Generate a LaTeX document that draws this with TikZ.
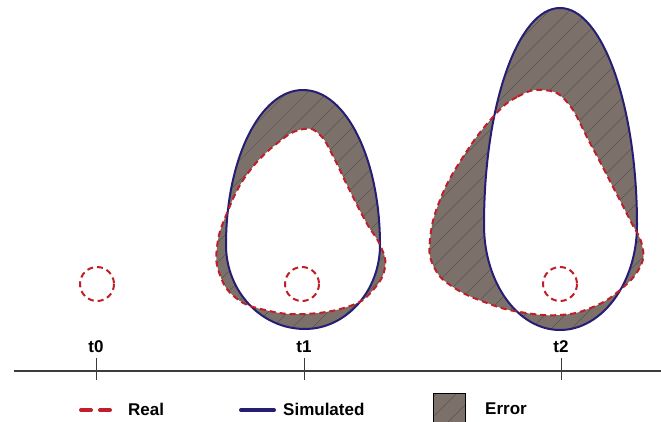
\documentclass[tikz,border=0pt]{standalone}
\usepackage{fontspec}
\setmainfont{Liberation Sans}
\definecolor{errc}{RGB}{124,112,106}
\definecolor{simc}{RGB}{38,30,115}
\definecolor{realc}{RGB}{192,30,40}
\definecolor{axc}{RGB}{60,60,60}
\begin{document}
\begin{tikzpicture}[x=1pt,y=-1pt,
  sim/.style={draw=simc,line width=2pt},
  real/.style={draw=realc,line width=2pt,dash pattern=on 6pt off 4pt},
  hatch/.style={draw=black!70,line width=0.35pt},
  lbl/.style={font=\bfseries\fontsize{17}{19}\selectfont,inner sep=0pt},
  axis/.style={draw=axc,line width=1.2pt}]
\useasboundingbox (0,0) rectangle (661,422);

\def\simA{(303,90) .. controls (260,90) and (226,159) .. (226,245) .. controls (226,291) and (261,329) .. (305,329) .. controls (346,329) and (380,291) .. (380,245) .. controls (380,159) and (346,90) .. (303,90) -- cycle}
\def\realA{plot[smooth cycle,tension=0.75] coordinates{(304,129) (280,141) (248,173) (227,213) (217,247) (220,275) (236,298) (265,310) (305,314) (350,306) (373,290) (385,267) (380,245) (366,222) (348,187) (333,156) (320,135)}}
\def\simB{(560,8) .. controls (518,8) and (484,105) .. (484,225) .. controls (484,283) and (518,330) .. (560,330) .. controls (602,330) and (637,283) .. (637,225) .. controls (637,105) and (602,8) .. (560,8) -- cycle}
\def\realB{plot[smooth cycle,tension=0.75] coordinates{(543,90) (517,97) (493,117) (463,157) (440,200) (430,240) (434,267) (453,287) (487,303) (520,312) (560,315) (593,307) (620,290) (640,267) (642,245) (630,220) (612,185) (590,143) (567,102)}}

% error fills
\fill[errc,even odd rule] \simA \realA;
\fill[errc,even odd rule] \simB \realB;
\begin{scope}[even odd rule]
  \clip \simA \realA;
  \foreach \k in {-200,-180,...,420} \draw[hatch] (\k,340) -- ++(260,-260);
\end{scope}
\begin{scope}[even odd rule]
  \clip \simB \realB;
  \foreach \k in {0,20,...,680} \draw[hatch] (\k,340) -- ++(340,-340);
\end{scope}

% outlines
\draw[sim] \simA;
\draw[real] \realA;
\draw[sim] \simB;
\draw[real] \realB;

% small circles
\draw[real] (97,284) circle (17);
\draw[real] (302,284) circle (17);
\draw[real] (560,284) circle (17);

% axis
\draw[axis] (14,371) -- (661,371);
\node[lbl] (t0) at (96,347) {t0};
\node[lbl] (t1) at (304,347) {t1};
\node[lbl] (t2) at (561,347) {t2};
\draw[axis,line width=1pt] (96,358) -- (96,380);
\draw[axis,line width=1pt] (304,358) -- (304,380);
\draw[axis,line width=1pt] (561,358) -- (561,380);

% legend
\draw[realc,line width=4pt,line cap=round] (81,410) -- (91,410);
\draw[realc,line width=4pt,line cap=round] (100,410) -- (110,410);
\node[lbl,anchor=west] (lr) at (128,409) {Real};
\draw[simc,line width=4pt,line cap=round] (241,410) -- (274,410);
\node[lbl,anchor=west] (ls) at (283,409) {Simulated};
\begin{scope}
  \clip (433,393) rectangle (465,423);
  \fill[errc] (433,393) rectangle (465,423);
  \foreach \k in {400,420,...,480} \draw[hatch] (\k,430) -- ++(40,-40);
\end{scope}
\draw[black,line width=0.8pt] (433,423) -- (433,393) -- (465,393) -- (465,423);
\node[lbl,anchor=west] (le) at (485,409) {Error};
\end{tikzpicture}
\end{document}
